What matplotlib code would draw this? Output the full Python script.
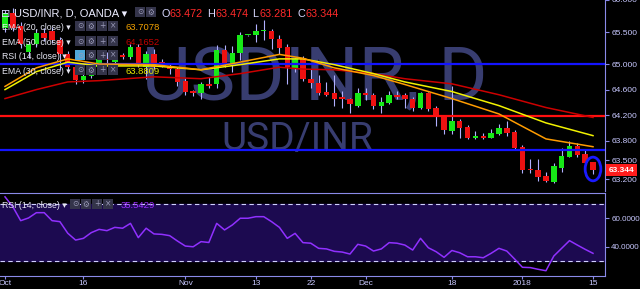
import numpy as np
import matplotlib.pyplot as plt
from matplotlib.patches import Ellipse, Rectangle
from matplotlib.transforms import blended_transform_factory

W, H = 640, 289

# daily OHLC, USD/INR Oct 2 2017 .. Jan 15 2018
opens = [65.57, 65.80, 65.60, 65.18, 65.31, 65.49, 65.52, 65.37, 65.15, 64.95,
         64.75, 64.82, 64.95, 65.08, 65.03, 65.14, 65.11, 65.26, 64.95, 65.15,
         65.03, 64.97, 64.92, 64.74, 64.58, 64.55, 64.68, 64.68, 65.22, 64.98,
         65.17, 65.45, 65.45, 65.51, 65.51, 65.39, 65.26, 64.92, 65.09, 64.77,
         64.71, 64.57, 64.54, 64.48, 64.45, 64.35, 64.55, 64.52, 64.35, 64.39,
         64.51, 64.52, 64.46, 64.32, 64.55, 64.31, 64.18, 63.95, 64.11, 64.02,
         63.85, 63.88, 63.85, 63.91, 64.00, 63.94, 63.71, 63.35, 63.34, 63.25,
         63.15, 63.38, 63.55, 63.72, 63.60, 63.472]
highs = [65.85, 65.88, 65.66, 65.36, 65.55, 65.56, 65.58, 65.42, 65.20, 65.00,
         64.86, 64.98, 65.12, 65.19, 65.18, 65.17, 65.31, 65.31, 65.20, 65.23,
         65.08, 65.01, 64.96, 64.78, 64.60, 64.72, 64.80, 65.29, 65.29, 65.28,
         65.50, 65.46, 65.62, 65.68, 65.54, 65.46, 65.31, 65.10, 65.12, 64.92,
         64.83, 64.72, 64.83, 64.58, 64.47, 64.62, 64.62, 64.55, 64.49, 64.58,
         64.58, 64.55, 64.49, 64.57, 64.57, 64.34, 64.20, 64.66, 64.14, 64.05,
         63.95, 63.92, 63.98, 64.06, 64.11, 63.97, 63.73, 63.51, 63.51, 63.31,
         63.46, 63.69, 63.80, 63.77, 63.66, 63.474]
lows = [65.50, 65.52, 65.25, 65.10, 65.27, 65.36, 65.33, 64.90, 64.90, 64.68,
        64.70, 64.78, 64.92, 64.98, 65.00, 65.08, 65.08, 64.95, 64.77, 64.92,
        64.95, 64.85, 64.65, 64.52, 64.50, 64.46, 64.62, 64.62, 64.95, 64.88,
        65.06, 65.44, 65.34, 65.37, 65.23, 65.15, 64.69, 64.88, 64.74, 64.62,
        64.52, 64.50, 64.34, 64.31, 64.23, 64.33, 64.43, 64.29, 64.23, 64.37,
        64.45, 64.31, 64.26, 64.30, 64.27, 64.03, 63.91, 63.91, 63.85, 63.83,
        63.83, 63.83, 63.84, 63.89, 63.88, 63.66, 63.29, 63.29, 63.17, 63.15,
        63.14, 63.32, 63.54, 63.54, 63.43, 63.281]
closes = [65.80, 65.57, 65.31, 65.31, 65.49, 65.40, 65.37, 65.15, 64.95, 64.75,
          64.82, 64.95, 65.08, 65.06, 65.14, 65.11, 65.26, 64.98, 65.15, 64.95,
          64.98, 64.92, 64.72, 64.57, 64.54, 64.68, 64.66, 65.22, 64.98, 65.17,
          65.46, 65.45, 65.51, 65.51, 65.39, 65.25, 64.95, 65.08, 64.77, 64.71,
          64.55, 64.52, 64.46, 64.45, 64.37, 64.55, 64.52, 64.35, 64.40, 64.51,
          64.49, 64.46, 64.32, 64.55, 64.29, 64.18, 63.97, 64.11, 64.00, 63.85,
          63.88, 63.85, 63.92, 64.00, 63.92, 63.69, 63.34, 63.34, 63.23, 63.17,
          63.40, 63.57, 63.72, 63.58, 63.45, 63.344]

# moving averages read at a few bars
ema_idx = [0, 4, 8, 12, 19, 25, 30, 35, 38, 42, 47, 51, 57, 63, 69, 75]
ema20 = [64.65, 64.94, 65.08, 65.00, 64.99, 64.91, 65.03, 65.15, 65.09, 64.94,
         64.82, 64.68, 64.46, 64.22, 63.83, 63.708]
ema30 = [64.60, 64.88, 65.03, 64.97, 64.97, 64.91, 64.99, 65.08, 65.08, 64.99,
         64.85, 64.72, 64.57, 64.35, 64.08, 63.881]
ema50 = [64.46, 64.60, 64.72, 64.74, 64.80, 64.77, 64.85, 64.95, 64.92, 64.91,
         64.85, 64.77, 64.69, 64.52, 64.32, 64.165]

# RSI(14) per bar
rsi = [75.0, 68.0, 58.3, 60.2, 63.9, 63.9, 58.3, 57.6, 49.5, 44.7,
       45.9, 49.9, 52.2, 51.3, 53.6, 53.0, 56.4, 46.4, 53.0, 49.0,
       48.7, 47.8, 44.0, 40.5, 40.0, 43.6, 43.0, 56.4, 51.8, 55.3,
       60.0, 60.0, 61.1, 61.1, 57.6, 53.6, 45.9, 49.4, 42.9, 42.5,
       38.9, 38.5, 36.8, 36.3, 34.9, 41.7, 40.5, 37.0, 38.5, 42.9,
       42.5, 41.2, 37.7, 45.9, 39.3, 36.5, 32.6, 37.4, 35.8, 33.0,
       33.0, 32.3, 35.4, 38.9, 37.0, 31.4, 25.6, 25.4, 24.2, 23.2,
       33.5, 38.9, 44.3, 41.2, 38.2, 35.4]

price_ticks = [63.2, 63.5, 63.8, 64.2, 64.6, 65.0, 65.5, 66.0]
rsi_ticks = [40, 60]
date_pos = [0, 10, 23, 32, 39, 46, 57, 66, 75]
date_labels = ['Oct', '16', 'Nov', '13', '22', 'Dec', '18', '2018', '15']

# horizontal drawings
hlines = [65.0, 64.18, 63.655]
hline_colors = ['#1414ff', '#ff1010', '#1414ff']

LAV = '#c8c8ff'
AXC = '#8a8ae8'
FONT = ['Liberation Sans', 'DejaVu Sans']
plt.rcParams['font.family'] = FONT

fig = plt.figure(figsize=(W / 100, H / 100), dpi=100, facecolor='black')

ax = fig.add_axes([0, 1 - 191 / H, 605 / W, 191 / H], facecolor='black')
ax_rsi = fig.add_axes([0, 1 - 276 / H, 605 / W, 83 / H], facecolor='black')

n = len(closes)
x = np.arange(n)
o = np.array(opens)
c = np.array(closes)
up = c >= o
colors = np.where(up, '#17e817', '#ee1111')
bottom = np.minimum(o, c)
height = np.maximum(np.abs(c - o), 0.02)

# watermark
ax.text(315 / W, 1 - 100 / H, 'USDINR, D', transform=fig.transFigure, ha='center',
        va='baseline', fontsize=54, family='Roboto', color='#383d70', zorder=0)
ax.text(297 / W, 1 - 150 / H, 'USD/INR', transform=fig.transFigure, ha='center',
        va='baseline', fontsize=28, family='Roboto', color='#383d70', zorder=0)

# candles
ax.vlines(x, lows, highs, color='#b0b0ff', lw=0.8, zorder=2)
ax.bar(x, height, bottom=bottom, width=0.7, color=colors, zorder=3)

for lvl, col in zip(hlines, hline_colors):
    ax.axhline(lvl, color=col, lw=1.6, zorder=4)

ax.plot(ema_idx, ema50, color='#cc0000', lw=1.1, zorder=5)
ax.plot(ema_idx, ema30, color='#f2f200', lw=1.1, zorder=5)
ax.plot(ema_idx, ema20, color='#ff9c00', lw=1.1, zorder=5)

ax.add_patch(Ellipse((75, 63.36), 2.0, 0.37, fill=False, edgecolor='#1a1aff', lw=2, zorder=6))

ax.set_xlim(-0.64, 76.53)
ax.set_ylim(63.016, 65.954)
ax.set_xticks([])
ax.yaxis.tick_right()
ax.set_yticks(price_ticks, ['%.3f' % v for v in price_ticks])
ax.tick_params(axis='y', colors=AXC, labelcolor=LAV, labelsize=6, length=3, width=0.8, pad=1.5)
for name, sp in ax.spines.items():
    sp.set_visible(name == 'right')
ax.spines['right'].set_color(AXC)

# last price box
tr = blended_transform_factory(ax.transAxes, ax.transData)
ax.text(1.006, closes[-1], '63.344', transform=tr, color='white', fontsize=6,
        fontweight='bold', va='center', ha='left', clip_on=False, zorder=10,
        bbox=dict(boxstyle='square,pad=0.3', facecolor='#ff1c1c', edgecolor='none'))

# RSI pane
ax_rsi.axhspan(30, 70, color='#1c0a50', zorder=0)
for lvl in (70, 30):
    ax_rsi.axhline(lvl, color='#d0d0ff', lw=0.8, dashes=(4, 3), zorder=1)
ax_rsi.plot(x, rsi, color='#9030ff', lw=1.1, zorder=2)
ax_rsi.set_xlim(-0.64, 76.53)
ax_rsi.set_ylim(19.5, 77.7)
ax_rsi.yaxis.tick_right()
ax_rsi.set_yticks(rsi_ticks, ['%.4f' % v for v in rsi_ticks])
ax_rsi.set_xticks(date_pos, date_labels)
ax_rsi.tick_params(axis='y', colors=AXC, labelcolor=LAV, labelsize=5.8, length=3, width=0.8, pad=1.5)
ax_rsi.tick_params(axis='x', colors=AXC, labelcolor=LAV, labelsize=6, length=2, width=0.8, pad=1)
ax_rsi.spines['left'].set_visible(False)
for name in ('top', 'right', 'bottom'):
    ax_rsi.spines[name].set_color(AXC)


def ftext(px, py, s, **kw):
    fig.text(px / W, 1 - py / H, s, va='baseline', **kw)


def icons(px, py, count, first=None):
    syms = ['⊙', '⚙', '+', '×']
    for k in range(count):
        fc = first if (k == 0 and first) else '#34344a'
        fig.add_artist(Rectangle(((px + 11 * k) / W, 1 - (py + 10) / H), 10 / W, 10 / H,
                                 transform=fig.transFigure, facecolor=fc, edgecolor='none'))
        fig.text((px + 11 * k + 5) / W, 1 - (py + 5) / H, syms[k], ha='center', va='center',
                 fontsize=5.5, color='#9a9ab8', family='DejaVu Sans')


# header legend
ftext(1, 17, '⊟', fontsize=8, color='#d8d8ff', family='DejaVu Sans')
ftext(14, 17, 'USD/INR, D, OANDA ▾', fontsize=8, color='#ececff')
icons(135, 7, 2)
for lx, letter, val in [(162, 'O', '63.472'), (207, 'H', '63.474'),
                        (252, 'L', '63.281'), (297, 'C', '63.344')]:
    ftext(lx, 17, letter, fontsize=7.8, color='#d8d8ff')
    ftext(lx + 8, 17, val, fontsize=7.8, color='#ff2a2a')

legend_rows = [(30, 'EMA (20, close) ▾', '63.7078', '#f0a000'),
               (45, 'EMA (50, close) ▾', '64.1652', '#c00000'),
               (59, 'RSI (14, close) ▾', None, None),
               (74, 'EMA (30, close) ▾', '63.8809', '#e8e800')]
for ly, label, val, vc in legend_rows:
    ftext(2, ly, label, fontsize=6.3, color='#e6e6f2')
    icons(75, ly - 9, 4, first='#4fa8d8' if val is None else None)
    if val:
        ftext(125, ly, val, fontsize=6.8, color=vc)

ftext(2, 208, 'RSI (14, close) ▾', fontsize=6.3, color='#e6e6f2')
icons(70, 199, 4)
ftext(121, 208, '35.5429', fontsize=6.8, color='#9b30ff')

fig.savefig('out.png', dpi=100, facecolor='black')
